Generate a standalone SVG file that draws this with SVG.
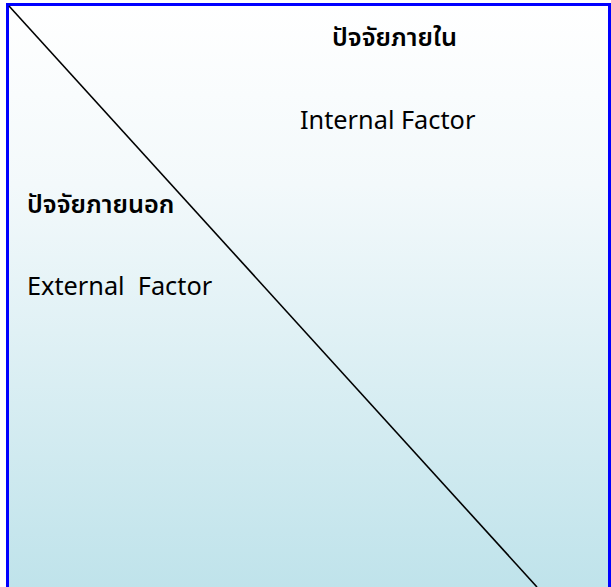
<svg xmlns="http://www.w3.org/2000/svg" width="611" height="587" viewBox="0 0 611 587">
<defs>
<linearGradient id="bg" x1="0" y1="0" x2="0" y2="1">
<stop offset="0" stop-color="#ffffff"/>
<stop offset="0.3" stop-color="#f3f9fb"/>
<stop offset="1" stop-color="#bde2ea"/>
</linearGradient>
<style>
.th{font-family:"Noto Sans Thai","Noto Sans","DejaVu Sans",sans-serif;font-size:25.3px;font-weight:600;fill:#000}
.en{font-family:"Noto Sans","Open Sans",sans-serif;font-size:25.3px;fill:#000}
</style>
</defs>
<g id="frame">
<rect x="7.5" y="4.5" width="602" height="600" fill="url(#bg)" stroke="#0000ff" stroke-width="3"/>
</g>
<g id="connectors">
<line x1="9" y1="6" x2="537" y2="587" stroke="#000" stroke-width="1.6"/>
</g>
<g id="internal">
<text class="th" x="332" y="46">ปัจจัยภายใน</text>
<text class="en" x="300" y="129">Internal Factor</text>
</g>
<g id="external">
<text class="th" x="27" y="213">ปัจจัยภายนอก</text>
<text class="en" x="27" y="295" xml:space="preserve">External  Factor</text>
</g>
</svg>
